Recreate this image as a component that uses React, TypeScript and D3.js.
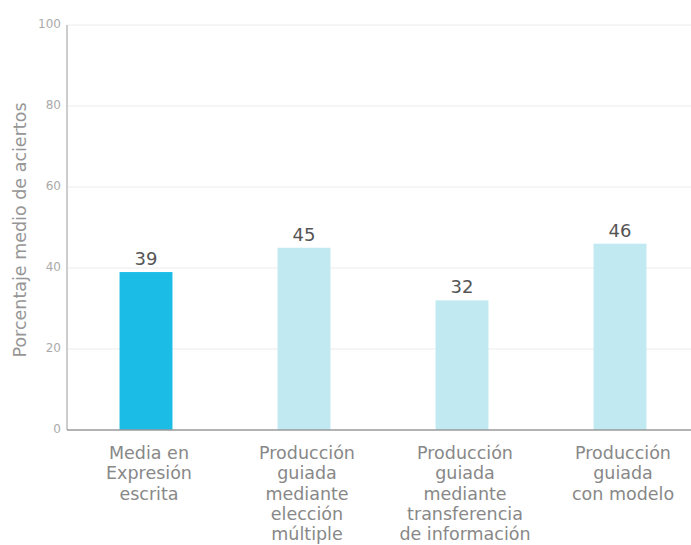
import React from "react";
import * as d3 from "d3";

const categories: string[][] = [
  ["Media en", "Expresión", "escrita"],
  ["Producción", "guiada", "mediante", "elección", "múltiple"],
  ["Producción", "guiada", "mediante", "transferencia", "de información"],
  ["Producción", "guiada", "con modelo"],
];
const values: number[] = [39, 45, 32, 46];
const barColors: string[] = ["#1bbde6", "#c0e9f1", "#c0e9f1", "#c0e9f1"];
const yTicks: number[] = [0, 20, 40, 60, 80, 100];
const yTitle = "Porcentaje medio de aciertos";

const W = 691;
const H = 545;
const FONT = "'DejaVu Sans', sans-serif";

export default function App() {
  const x0 = 67;
  const x1 = 699;
  const y = d3.scaleLinear().domain([0, 100]).range([430, 25]);
  const x = d3
    .scaleBand<number>()
    .domain(values.map((_, i) => i))
    .range([x0, x1])
    .paddingInner(0.665)
    .paddingOuter(0.3325);

  return (
    <svg
      width={W}
      height={H}
      style={{ position: "absolute", left: 0, top: 0, background: "#fff" }}
      fontFamily={FONT}
    >
      {yTicks.map((t) => (
        <g key={t}>
          {t > 0 && (
            <line x1={x0} x2={W} y1={y(t)} y2={y(t)} stroke="#ececec" strokeWidth={1} />
          )}
          <text
            x={x0 - 6}
            y={y(t) - 1}
            textAnchor="end"
            dominantBaseline="middle"
            fontSize={12}
            fill="#aaaaaa"
          >
            {t}
          </text>
        </g>
      ))}
      <line x1={x0} x2={x0} y1={y(100)} y2={y(0)} stroke="#bdbdbd" strokeWidth={1.5} />
      {values.map((v, i) => {
        const bx = x(i)!;
        const bw = x.bandwidth();
        return (
          <g key={i}>
            <rect x={bx} y={y(v)} width={bw} height={y(0) - y(v)} fill={barColors[i]} />
            <text
              x={bx + bw / 2}
              y={y(v) - 7}
              textAnchor="middle"
              fontSize={18}
              fill="#555"
            >
              {v}
            </text>
            {categories[i].map((line, j) => (
              <text
                key={j}
                x={bx + bw / 2 + 3}
                y={459 + j * 20.3}
                textAnchor="middle"
                fontSize={17.5}
                fill="#888888"
              >
                {line}
              </text>
            ))}
          </g>
        );
      })}
      <line x1={x0} x2={W} y1={y(0)} y2={y(0)} stroke="#9a9a9a" strokeWidth={1.5} />
      <text
        transform={`translate(26, 230) rotate(-90)`}
        textAnchor="middle"
        fontSize={17.5}
        fill="#969696"
      >
        {yTitle}
      </text>
    </svg>
  );
}
